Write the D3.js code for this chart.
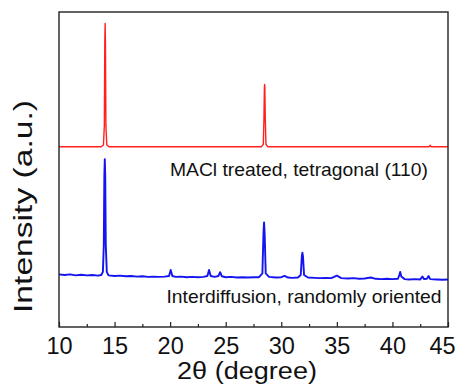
<!DOCTYPE html>
<html>
<head>
<meta charset="utf-8">
<script src="https://cdn.jsdelivr.net/npm/d3@7"></script>
<style>
  html, body { margin: 0; padding: 0; background: #fff; }
  svg { display: block; }
  text { font-family: "Liberation Sans", Arial, sans-serif; fill: #111; }
</style>
</head>
<body>
<svg id="chart" width="465" height="387"></svg>
<script>
// ---- data ----
const xTicks = [10, 15, 20, 25, 30, 35, 40, 45];
const xMinorTicks = [12.5, 17.5, 22.5, 27.5, 32.5, 37.5, 42.5];

// MACl treated film (red)
const redTwoTheta = [10, 13.8, 14.0, 14.08, 14.12, 14.15, 14.18, 14.22, 14.3, 14.5,
  28.2, 28.38, 28.44, 28.48, 28.5, 28.52, 28.56, 28.62, 28.8, 43.3, 43.4, 43.5, 45];
const redIntensity = [572, 572, 578, 640, 900, 964, 900, 640, 578, 572,
  572, 580, 660, 760, 770, 760, 660, 580, 572, 572, 577, 572, 572];

// Interdiffusion film (blue)
const blueTwoTheta = [10, 10.5, 11, 11.5, 12, 12.5, 13, 13.5, 13.8, 13.95, 14.03, 14.08, 14.12, 14.16, 14.21, 14.3, 14.45,
  15, 15.5, 16, 16.5, 17, 17.5, 18, 18.5, 19, 19.5, 19.9, 20.05, 20.2, 20.5, 21, 21.5, 22, 22.5, 23, 23.35, 23.5, 23.65,
  24.0, 24.35, 24.5, 24.65, 25, 25.5, 26, 26.5, 27, 27.5, 28.0, 28.3, 28.4, 28.45, 28.5, 28.6, 28.9, 29.5, 30.0, 30.3, 30.6,
  31, 31.5, 31.75, 31.85, 31.9, 31.95, 32.05, 32.4, 33, 33.5, 34, 34.5, 35.0, 35.4, 36, 36.5, 37, 37.5, 38.05, 38.5, 39,
  39.5, 40, 40.5, 40.62, 40.7, 40.8, 41.1, 41.5, 42, 42.5, 42.7, 42.85, 43.1, 43.25, 43.4, 44, 44.5, 45];
const blueIntensity = [167, 165, 167, 164, 166, 164, 165, 163, 165, 175, 260, 480, 533, 480, 260, 175, 164,
  162, 163, 161, 162, 160, 161, 159, 160, 159, 160, 162, 181, 162, 159, 160, 158, 159, 158, 159, 162, 181, 162,
  159, 162, 174, 161, 158, 159, 157, 158, 157, 158, 158, 170, 300, 332, 300, 170, 159, 157, 158, 162, 157,
  156, 157, 165, 225, 236, 225, 165, 157, 156, 155, 156, 155, 163, 155, 154, 155, 153, 154, 157, 153, 152,
  153, 152, 153, 165, 175, 160, 152, 151, 152, 151, 160, 152, 153, 162, 152, 151, 150, 151];

const labels = ["MACl treated, tetragonal (110)", "Interdiffusion, randomly oriented"];
const xTitle = "2\u03b8 (degree)";
const yTitle = "Intensity (a.u.)";

// ---- layout ----
const svg = d3.select("#chart");
const mLeft = 59, mRight = 448, mTop = 12, mBottom = 327;

const x = d3.scaleLinear().domain([10, 45]).range([mLeft, mRight]);
const y = d3.scaleLinear().domain([0, 1000]).range([mBottom, mTop]);

const line = d3.line().x(d => x(d[0])).y(d => y(d[1]));

const red = d3.zip(redTwoTheta, redIntensity);
const blue = d3.zip(blueTwoTheta, blueIntensity);

svg.append("path").datum(blue)
  .attr("d", line).attr("fill", "none")
  .attr("stroke", "#1414f0").attr("stroke-width", 1.9).attr("stroke-linejoin", "round");
svg.append("path").datum(red)
  .attr("d", line).attr("fill", "none")
  .attr("stroke", "#ff2020").attr("stroke-width", 1.4).attr("stroke-linejoin", "round");

// frame
svg.append("rect").attr("x", mLeft).attr("y", mTop)
  .attr("width", mRight - mLeft).attr("height", mBottom - mTop)
  .attr("fill", "none").attr("stroke", "#222").attr("stroke-width", 1.4);

// bottom axis: inward ticks
const axis = d3.axisBottom(x).tickValues(xTicks).tickSizeInner(-5).tickSizeOuter(0).tickPadding(0).tickFormat(d3.format("d"));
const gx = svg.append("g").attr("transform", `translate(0,${mBottom})`).call(axis);
gx.select(".domain").remove();
gx.selectAll(".tick line").attr("stroke", "#222").attr("stroke-width", 1.2);
gx.selectAll(".tick text").attr("y", 26.5).attr("dy", 0)
  .attr("dx", d => d === 45 ? -6 : 0)
  .style("font-family", "Liberation Sans, Arial, sans-serif").style("font-size", "23.5px").attr("fill", "#111");

const axisMinor = d3.axisBottom(x).tickValues(xMinorTicks).tickSizeInner(-3).tickSizeOuter(0).tickFormat("");
const gm = svg.append("g").attr("transform", `translate(0,${mBottom})`).call(axisMinor);
gm.select(".domain").remove();
gm.selectAll(".tick line").attr("stroke", "#222").attr("stroke-width", 1.2);

// titles
svg.append("text").attr("x", 177).attr("y", 379)
  .attr("textLength", 140).attr("lengthAdjust", "spacingAndGlyphs")
  .style("font-size", "23px").text(xTitle);
svg.append("text").attr("transform", "translate(32,313) rotate(-90)")
  .attr("textLength", 213).attr("lengthAdjust", "spacingAndGlyphs")
  .style("font-size", "26px").text(yTitle);

// series labels
svg.append("text").attr("x", 170).attr("y", 175.5)
  .attr("textLength", 258).attr("lengthAdjust", "spacingAndGlyphs")
  .style("font-size", "18.5px").text(labels[0]);
svg.append("text").attr("x", 166.5).attr("y", 303)
  .attr("textLength", 275).attr("lengthAdjust", "spacingAndGlyphs")
  .style("font-size", "18.5px").text(labels[1]);
</script>
</body>
</html>
